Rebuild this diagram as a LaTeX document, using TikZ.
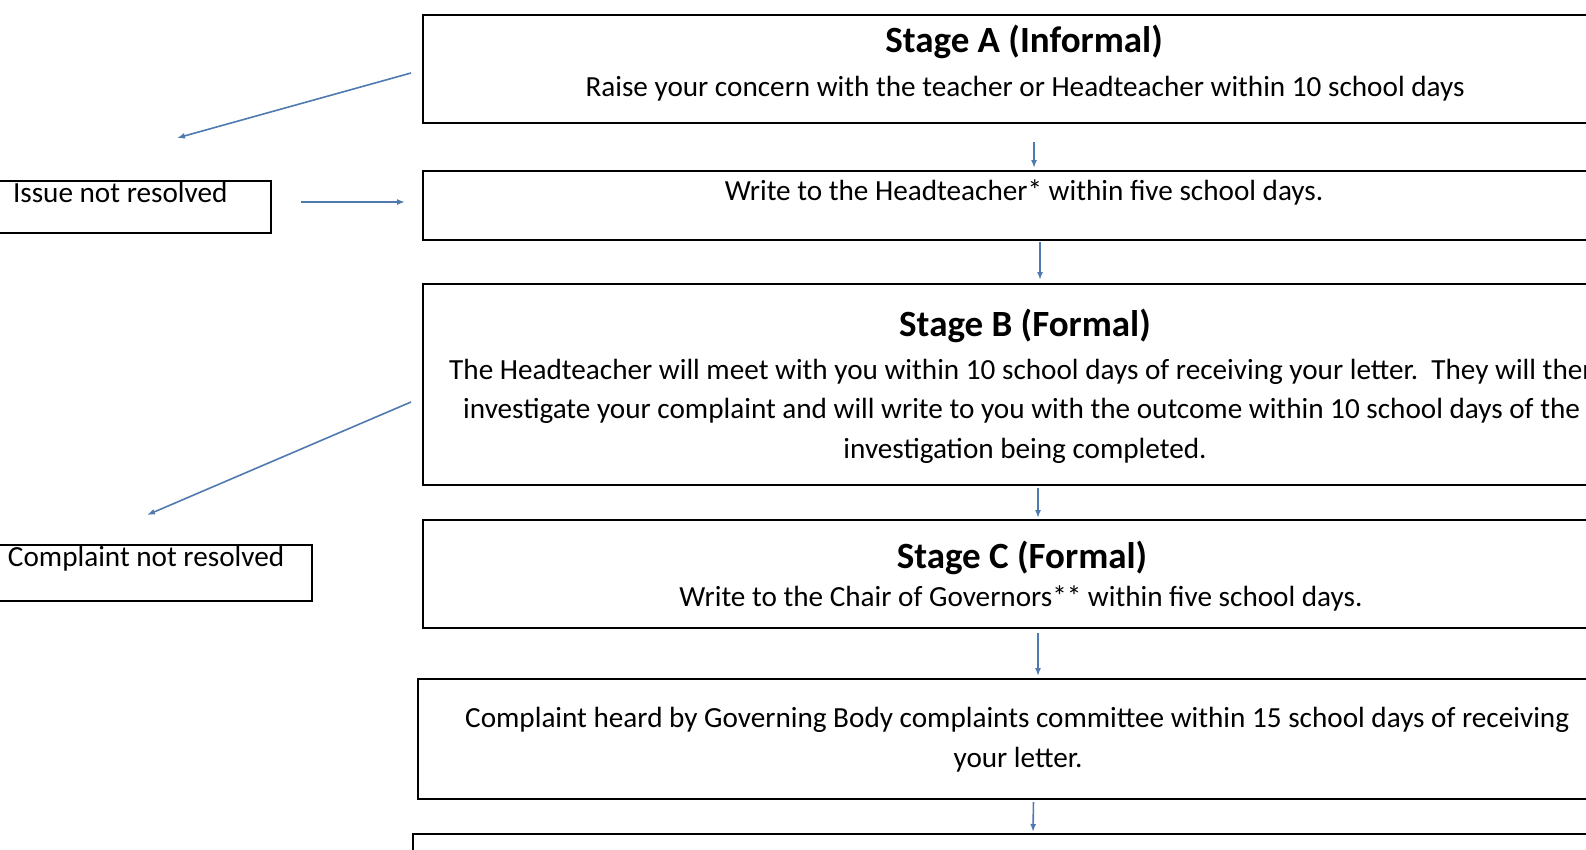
\documentclass[tikz,border=0pt]{standalone}
\usepackage{fontspec}
\setmainfont{Carlito}
\usetikzlibrary{arrows.meta}
\definecolor{flowblue}{RGB}{79,122,176}
\newcommand\bodyfont{\fontsize{29.2}{40}\selectfont}
\newcommand\headfont{\fontsize{37}{44}\selectfont\bfseries}

\begin{document}
\begin{tikzpicture}[x=1pt, y=-1pt,
  box/.style={draw, line width=1.8pt, outer sep=0pt, inner sep=0pt, anchor=north west},
  tag/.style={draw, line width=1.8pt, outer sep=0pt, inner ysep=0pt, anchor=north west, text height=21pt, font=\bodyfont},
  txt/.style={font=\bodyfont, inner sep=0pt, anchor=base},
  head/.style={font=\headfont, inner sep=0pt, anchor=base},
  flow/.style={draw=flowblue, line width=1.6pt, -{Latex[length=8pt,width=6pt]}}]
\useasboundingbox (0,0) rectangle (1586,849);
\clip (0,0) rectangle (1586,849);
% stage boxes
\node[box, minimum width=1226pt, minimum height=108pt] (boxA) at (423,15){};
\node[box, minimum width=1226pt, minimum height=69pt] (boxW) at (423,171){};
\node[box, minimum width=1226pt, minimum height=201pt] (boxB) at (423,284){};
\node[box, minimum width=1226pt, minimum height=108pt] (boxC) at (423,520){};
\node[box, minimum width=1231pt, minimum height=120pt] (boxD) at (418,679){};
\node[box, minimum width=1236pt, minimum height=80pt] (boxE) at (413,834){};
% texts
\node[head] (headA) at (1024,52){Stage A (Informal)};
\node[txt] (lineA) at (1025,96){Raise your concern with the teacher or Headteacher within 10 school days};
\node[txt] (lineW) at (1024,200){Write to the Headteacher* within five school days.};
\node[head] (headB) at (1025,336){Stage B (Formal)};
\node[txt, anchor=base west] (lineB1) at (449,379){The Headteacher will meet with you within 10 school days of receiving your letter.\ \ They will then};
\node[txt, anchor=base west] (lineB2) at (463,418){investigate your complaint and will write to you with the outcome within 10 school days of the};
\node[txt] (lineB3) at (1025,458){investigation being completed.};
\node[head] (headC) at (1022,568){Stage C (Formal)};
\node[txt] (lineC) at (1021,606){Write to the Chair of Governors** within five school days.};
\node[txt, anchor=base west] (lineD1) at (465,727){Complaint heard by Governing Body complaints committee within 15 school days of receiving};
\node[txt] (lineD2) at (1018,767){your letter.};
% side notes
\node[tag, inner xsep=33pt, text depth=31pt] (issue) at (-20,181){\makebox[225pt][l]{Issue not resolved}};
\node[tag, inner xsep=28pt, text depth=35pt] (unres) at (-20,545){\makebox[276pt][l]{Complaint not resolved}};
\coordinate (issueend) at (177,138);
\coordinate (unresend) at (147,515);
% arrows
\draw[flow, shorten <=19pt, shorten >=3pt] ([xshift=-2pt]boxA.south) -- ([xshift=-2pt]boxW.north);
\draw[flow, shorten <=2pt, shorten >=4pt] ([xshift=4pt]boxW.south) -- ([xshift=4pt]boxB.north);
\draw[flow, shorten <=3pt, shorten >=2pt] ([xshift=2pt]boxB.south) -- ([xshift=2pt]boxC.north);
\draw[flow, shorten <=5pt, shorten >=3pt] ([xshift=2pt]boxC.south) -- ([xshift=4.5pt]boxD.north);
\draw[flow, shorten <=3pt, shorten >=2pt] (boxD.south) -- ([xshift=2pt]boxE.north);
\draw[flow] ([shift={(-12,4)}]boxA.west) -- (issueend);
\draw[flow, shorten <=30pt, shorten >=18pt] ([yshift=5pt]issue.east) -- ([yshift=3.5pt]boxW.west);
\draw[flow] ([shift={(-12,17.5)}]boxB.west) -- (unresend);
\end{tikzpicture}
\end{document}
